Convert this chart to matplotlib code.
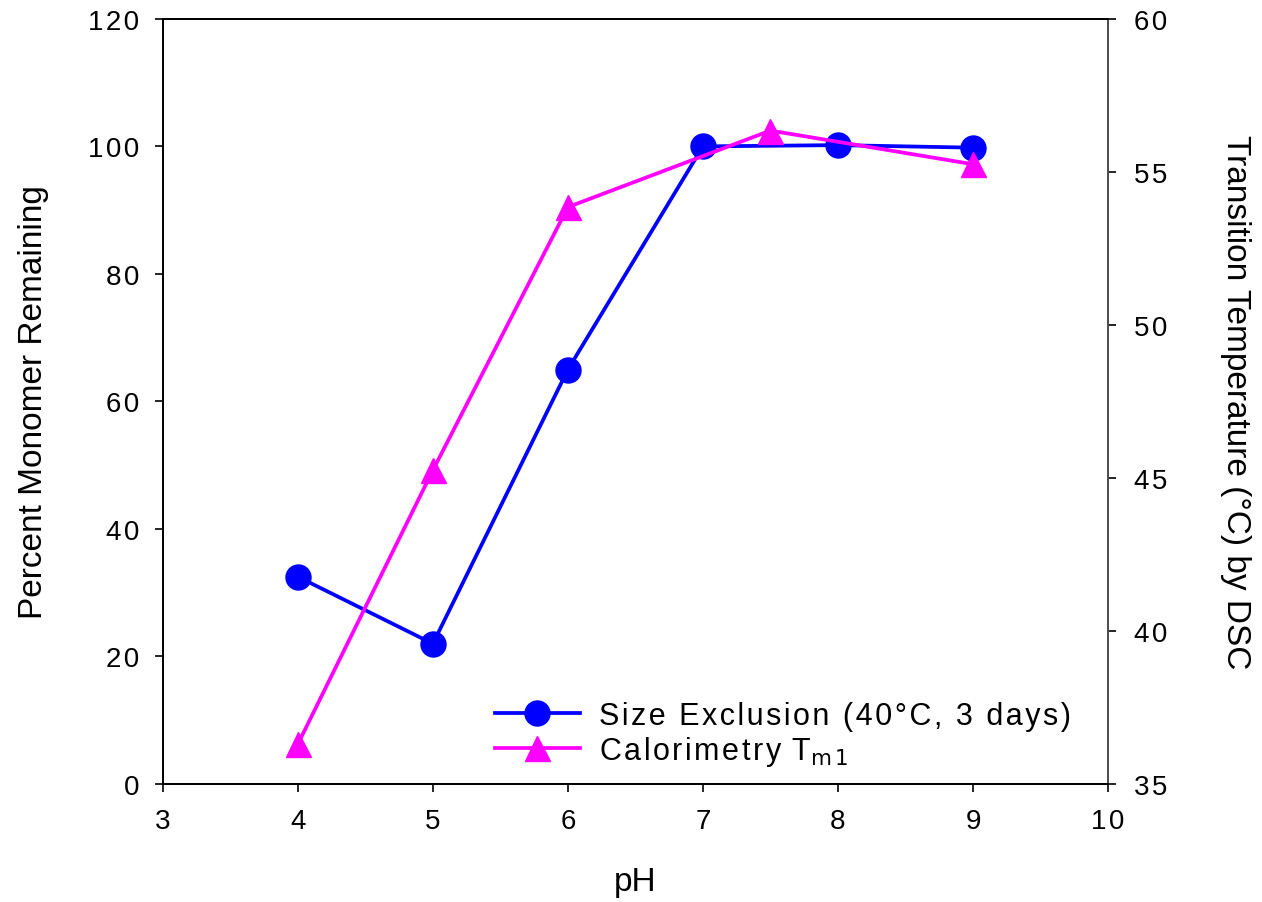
import matplotlib
matplotlib.use("Agg")
from matplotlib import pyplot as plt
from matplotlib.ticker import FuncFormatter

plt.rcParams["font.family"] = ["Liberation Sans", "DejaVu Sans"]

# dados
ph_sec = [4, 5, 6, 7, 8, 9]
monomero = [32.5, 22.0, 65.0, 100.0, 100.2, 99.8]

ph_dsc = [4, 5, 6, 7.5, 9]
tm1 = [36.3, 45.25, 53.85, 56.35, 55.25]

# texto com espacamento entre letras (como no original)
def espaco(txt):
    return "\u200a".join(txt)

fmt = FuncFormatter(lambda v, p: espaco("%g" % v))

fig = plt.figure(figsize=(12.62, 9.03), dpi=100)
ax = fig.add_axes([0.129, 0.1307, 0.749, 0.8473])
ax2 = ax.twinx()

l1, = ax.plot(ph_sec, monomero, color="#0000ff", lw=2.7, marker="o",
              markersize=18, label=espaco("Size Exclusion (40°C, 3 days)"), zorder=3)
l2, = ax2.plot(ph_dsc, tm1, color="#ff00ff", lw=2.7, marker="^",
               markersize=18, label=espaco("Calorimetry ") + r"T$_{\rm m\,1}$", zorder=4)

ax.set_xlim(3, 10)
ax.set_ylim(0, 120)
ax2.set_ylim(35, 60)
ax.set_xticks(range(3, 11))
ax.set_yticks(range(0, 121, 20))
ax2.set_yticks(range(35, 61, 5))

for a in (ax, ax2):
    a.tick_params(direction="out", length=6, width=1.2, labelsize=20, pad=11)
    for s in a.spines.values():
        s.set_linewidth(1.3)
ax.xaxis.set_major_formatter(fmt)
ax.yaxis.set_major_formatter(fmt)
ax2.yaxis.set_major_formatter(fmt)
ax2.spines["right"].set_color("#555555")
ax2.tick_params(axis="y", pad=13)

ax.set_xlabel("pH", fontsize=24, labelpad=23)
ax.set_ylabel("Percent Monomer Remaining", fontsize=24, labelpad=28)
ax2.set_ylabel("Transition Temperature (°C) by DSC", fontsize=24,
               rotation=270, labelpad=60)

ax2.legend(handles=[l1, l2], loc="lower right", bbox_to_anchor=(0.983, -0.007),
           frameon=False, fontsize=22, handlelength=2.8, labelspacing=0.1,
           handletextpad=0.6, borderaxespad=0.3)

plt.savefig("out.png", dpi=100)
